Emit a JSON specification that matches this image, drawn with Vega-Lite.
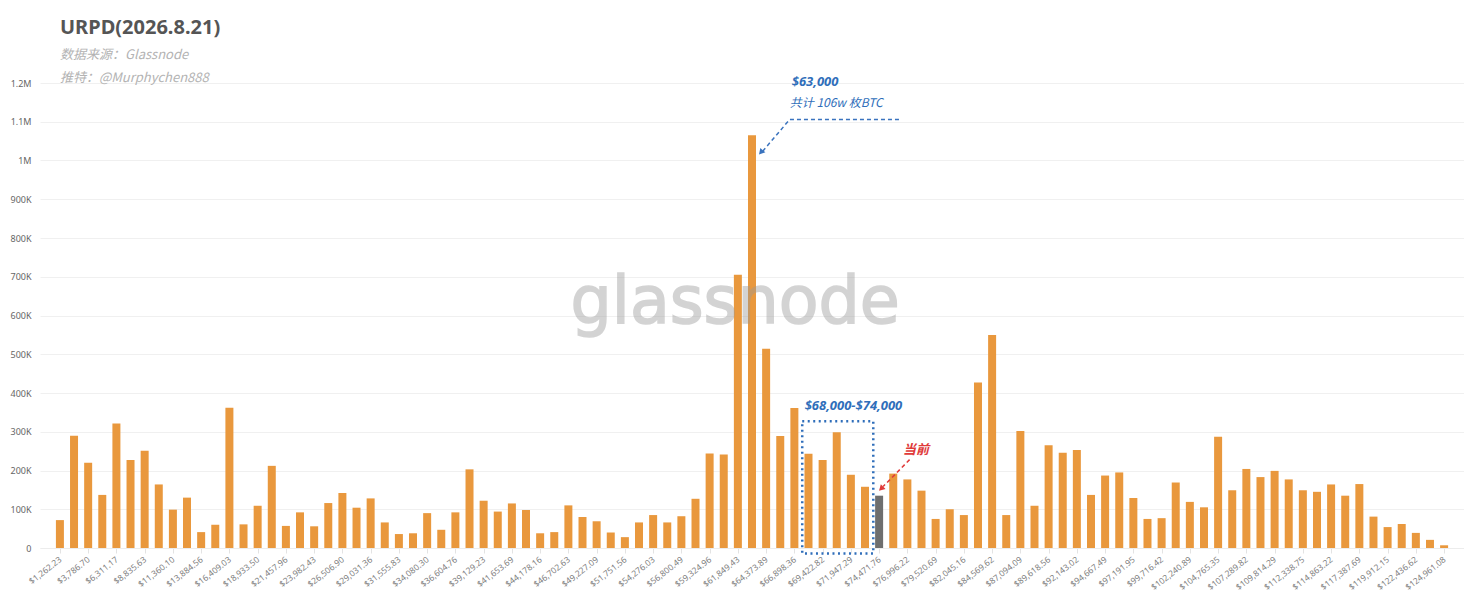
{
  "$schema": "https://vega.github.io/schema/vega-lite/v6.json",
  "width": 1424,
  "height": 465,
  "autosize": "none",
  "padding": {"left": 40, "top": 83, "right": 0, "bottom": 63},
  "background": "white",
  "config": {
    "view": {"stroke": null},
    "axisX": {"labelAngle": -38, "labelOverlap": false, "labelBound": false, "labelFlush": false},
    "axisY": {"labelOverlap": false}
  },
  "title": {
    "text": "URPD(2026.8.21)",
    "subtitle": ["数据来源：Glassnode", "推特：@Murphychen888"],
    "anchor": "start",
    "frame": "group",
    "dx": 20,
    "offset": -9,
    "font": "Noto Sans",
    "fontSize": 20,
    "fontWeight": "bold",
    "color": "#555555",
    "subtitleFont": "Noto Sans CJK SC",
    "subtitleFontSize": 13,
    "subtitleFontStyle": "italic",
    "subtitleColor": "#b3b3b3",
    "subtitleLineHeight": 23,
    "subtitlePadding": 11
  },
  "datasets": {
    "urpd": [
      {"price": 1262.23, "btc": 72000, "status": "other"},
      {"price": 2524.47, "btc": 290000, "status": "other"},
      {"price": 3786.70, "btc": 220000, "status": "other"},
      {"price": 5048.93, "btc": 137000, "status": "other"},
      {"price": 6311.17, "btc": 321000, "status": "other"},
      {"price": 7573.40, "btc": 227000, "status": "other"},
      {"price": 8835.63, "btc": 251000, "status": "other"},
      {"price": 10097.86, "btc": 164000, "status": "other"},
      {"price": 11360.10, "btc": 99000, "status": "other"},
      {"price": 12622.33, "btc": 130000, "status": "other"},
      {"price": 13884.56, "btc": 41000, "status": "other"},
      {"price": 15146.80, "btc": 60000, "status": "other"},
      {"price": 16409.03, "btc": 362000, "status": "other"},
      {"price": 17671.26, "btc": 61000, "status": "other"},
      {"price": 18933.50, "btc": 109000, "status": "other"},
      {"price": 20195.73, "btc": 212000, "status": "other"},
      {"price": 21457.96, "btc": 57000, "status": "other"},
      {"price": 22720.20, "btc": 92000, "status": "other"},
      {"price": 23982.43, "btc": 56000, "status": "other"},
      {"price": 25244.66, "btc": 116000, "status": "other"},
      {"price": 26506.90, "btc": 142000, "status": "other"},
      {"price": 27769.13, "btc": 104000, "status": "other"},
      {"price": 29031.36, "btc": 128000, "status": "other"},
      {"price": 30293.60, "btc": 66000, "status": "other"},
      {"price": 31555.83, "btc": 36000, "status": "other"},
      {"price": 32818.06, "btc": 38000, "status": "other"},
      {"price": 34080.30, "btc": 90000, "status": "other"},
      {"price": 35342.53, "btc": 47000, "status": "other"},
      {"price": 36604.76, "btc": 92000, "status": "other"},
      {"price": 37867.00, "btc": 203000, "status": "other"},
      {"price": 39129.23, "btc": 122000, "status": "other"},
      {"price": 40391.46, "btc": 94000, "status": "other"},
      {"price": 41653.69, "btc": 115000, "status": "other"},
      {"price": 42915.93, "btc": 98000, "status": "other"},
      {"price": 44178.16, "btc": 38000, "status": "other"},
      {"price": 45440.40, "btc": 41000, "status": "other"},
      {"price": 46702.63, "btc": 110000, "status": "other"},
      {"price": 47964.86, "btc": 80000, "status": "other"},
      {"price": 49227.09, "btc": 69000, "status": "other"},
      {"price": 50489.33, "btc": 40000, "status": "other"},
      {"price": 51751.56, "btc": 28000, "status": "other"},
      {"price": 53013.80, "btc": 66000, "status": "other"},
      {"price": 54276.03, "btc": 85000, "status": "other"},
      {"price": 55538.26, "btc": 66000, "status": "other"},
      {"price": 56800.49, "btc": 82000, "status": "other"},
      {"price": 58062.73, "btc": 127000, "status": "other"},
      {"price": 59324.96, "btc": 244000, "status": "other"},
      {"price": 60587.20, "btc": 241000, "status": "other"},
      {"price": 61849.43, "btc": 705000, "status": "other"},
      {"price": 63111.66, "btc": 1065000, "status": "other"},
      {"price": 64373.89, "btc": 514000, "status": "other"},
      {"price": 65636.13, "btc": 289000, "status": "other"},
      {"price": 66898.36, "btc": 361000, "status": "other"},
      {"price": 68160.59, "btc": 243000, "status": "other"},
      {"price": 69422.82, "btc": 227000, "status": "other"},
      {"price": 70685.06, "btc": 299000, "status": "other"},
      {"price": 71947.29, "btc": 189000, "status": "other"},
      {"price": 73209.53, "btc": 158000, "status": "other"},
      {"price": 74471.76, "btc": 135000, "status": "current"},
      {"price": 75733.99, "btc": 192000, "status": "other"},
      {"price": 76996.22, "btc": 177000, "status": "other"},
      {"price": 78258.46, "btc": 148000, "status": "other"},
      {"price": 79520.69, "btc": 75000, "status": "other"},
      {"price": 80782.93, "btc": 100000, "status": "other"},
      {"price": 82045.16, "btc": 85000, "status": "other"},
      {"price": 83307.39, "btc": 427000, "status": "other"},
      {"price": 84569.62, "btc": 550000, "status": "other"},
      {"price": 85831.86, "btc": 85000, "status": "other"},
      {"price": 87094.09, "btc": 302000, "status": "other"},
      {"price": 88356.33, "btc": 109000, "status": "other"},
      {"price": 89618.56, "btc": 265000, "status": "other"},
      {"price": 90880.79, "btc": 246000, "status": "other"},
      {"price": 92143.02, "btc": 253000, "status": "other"},
      {"price": 93405.26, "btc": 137000, "status": "other"},
      {"price": 94667.49, "btc": 187000, "status": "other"},
      {"price": 95929.72, "btc": 195000, "status": "other"},
      {"price": 97191.95, "btc": 129000, "status": "other"},
      {"price": 98454.19, "btc": 75000, "status": "other"},
      {"price": 99716.42, "btc": 77000, "status": "other"},
      {"price": 100978.66, "btc": 169000, "status": "other"},
      {"price": 102240.89, "btc": 119000, "status": "other"},
      {"price": 103503.12, "btc": 105000, "status": "other"},
      {"price": 104765.35, "btc": 287000, "status": "other"},
      {"price": 106027.59, "btc": 149000, "status": "other"},
      {"price": 107289.82, "btc": 204000, "status": "other"},
      {"price": 108552.06, "btc": 183000, "status": "other"},
      {"price": 109814.29, "btc": 199000, "status": "other"},
      {"price": 111076.52, "btc": 177000, "status": "other"},
      {"price": 112338.75, "btc": 149000, "status": "other"},
      {"price": 113600.99, "btc": 145000, "status": "other"},
      {"price": 114863.22, "btc": 164000, "status": "other"},
      {"price": 116125.46, "btc": 135000, "status": "other"},
      {"price": 117387.69, "btc": 165000, "status": "other"},
      {"price": 118649.92, "btc": 81000, "status": "other"},
      {"price": 119912.15, "btc": 54000, "status": "other"},
      {"price": 121174.39, "btc": 62000, "status": "other"},
      {"price": 122436.62, "btc": 39000, "status": "other"},
      {"price": 123698.85, "btc": 21000, "status": "other"},
      {"price": 124961.08, "btc": 7000, "status": "other"}
    ],
    "blueArrow": [
      {"price": 76245, "btc": 1106000, "o": 0},
      {"price": 66484, "btc": 1106000, "o": 1},
      {"price": 64088, "btc": 1024700, "o": 2}
    ],
    "redArrow": [
      {"price": 77195, "btc": 228000, "o": 0},
      {"price": 74827, "btc": 158500, "o": 1}
    ]
  },
  "encoding": {
    "x": {
      "field": "price",
      "type": "quantitative",
      "scale": {"domain": [-70, 126293], "nice": false, "zero": false},
      "axis": {
        "title": null,
        "values": [1262.23, 3786.70, 6311.17, 8835.63, 11360.10, 13884.56, 16409.03, 18933.50, 21457.96, 23982.43, 26506.90, 29031.36, 31555.83, 34080.30, 36604.76, 39129.23, 41653.69, 44178.16, 46702.63, 49227.09, 51751.56, 54276.03, 56800.49, 59324.96, 61849.43, 64373.89, 66898.36, 69422.82, 71947.29, 74471.76, 76996.22, 79520.69, 82045.16, 84569.62, 87094.09, 89618.56, 92143.02, 94667.49, 97191.95, 99716.42, 102240.89, 104765.35, 107289.82, 109814.29, 112338.75, 114863.22, 117387.69, 119912.15, 122436.62, 124961.08],
        "format": "$,.2f",
        "labelAngle": -38,
        "labelAlign": "right",
        "labelBaseline": "middle",
        "labelFont": "Noto Sans",
        "labelFontSize": 8.5,
        "labelColor": "#808080",
        "labelPadding": 5,
        "labelOverlap": false,
        "labelBound": false,
        "labelFlush": false,
        "grid": false,
        "ticks": true,
        "tickColor": "#e3e3e3",
        "tickSize": 5,
        "domain": true,
        "domainColor": "#ececec"
      }
    },
    "y": {
      "field": "btc",
      "type": "quantitative",
      "scale": {"domain": [0, 1200000], "nice": false},
      "axis": {
        "title": null,
        "values": [0, 100000, 200000, 300000, 400000, 500000, 600000, 700000, 800000, 900000, 1000000, 1100000, 1200000],
        "labelExpr": "datum.value >= 1000000 ? format(datum.value / 1000000, '~g') + 'M' : (datum.value == 0 ? '0' : format(datum.value / 1000, 'd') + 'K')",
        "labelFont": "Noto Sans",
        "labelFontSize": 9,
        "labelColor": "#666666",
        "labelPadding": 9,
        "labelOverlap": false,
        "grid": true,
        "gridColor": "#f0f0f0",
        "domain": false,
        "ticks": false
      }
    }
  },
  "layer": [
    {
      "data": {"name": "urpd"},
      "mark": {"type": "bar", "width": 8},
      "encoding": {
        "color": {
          "field": "status",
          "type": "nominal",
          "scale": {"domain": ["other", "current"], "range": ["#E9983D", "#6E6E6E"]},
          "legend": null
        }
      }
    },
    {
      "data": {"values": [{"price": 61603, "btc": 581000}]},
      "mark": {"type": "text", "text": "glassnode", "font": "DejaVu Sans", "fontWeight": "normal", "fontSize": 65, "color": "#999999", "stroke": "#999999", "strokeWidth": 1.6, "opacity": 0.42, "align": "center", "baseline": "alphabetic"}
    },
    {
      "data": {"values": [{"price": 67600, "price2": 73950, "btc": 327000, "btc2": -14000}]},
      "mark": {"type": "rect", "fill": null, "fillOpacity": 0, "stroke": "#2F6EBA", "strokeWidth": 2.5, "strokeDash": [2, 3.5]},
      "encoding": {
        "x2": {"field": "price2"},
        "y2": {"field": "btc2"}
      }
    },
    {
      "data": {"name": "blueArrow"},
      "mark": {"type": "line", "color": "#3A73BE", "strokeWidth": 1.5, "strokeDash": [4, 3]},
      "encoding": {"order": {"field": "o"}}
    },
    {
      "data": {"values": [{"price": 63910, "btc": 1021000}]},
      "mark": {"type": "point", "shape": "triangle-up", "filled": true, "color": "#3A73BE", "size": 45, "angle": 221, "opacity": 1}
    },
    {
      "data": {"name": "redArrow"},
      "mark": {"type": "line", "color": "#E03A3A", "strokeWidth": 1.5, "strokeDash": [4, 3]},
      "encoding": {"order": {"field": "o"}}
    },
    {
      "data": {"values": [{"price": 74650, "btc": 153000}]},
      "mark": {"type": "point", "shape": "triangle-up", "filled": true, "color": "#E03A3A", "size": 45, "angle": 225, "opacity": 1}
    },
    {
      "data": {"values": [{"price": 66663, "btc": 1202000}]},
      "mark": {"type": "text", "text": "$63,000", "font": "Noto Sans", "fontSize": 13, "fontWeight": "bold", "fontStyle": "italic", "color": "#2F6EBA", "align": "left", "baseline": "middle"}
    },
    {
      "data": {"values": [{"price": 66480, "btc": 1148000}]},
      "mark": {"type": "text", "text": "共计 106w 枚BTC", "font": "Noto Sans CJK SC", "fontSize": 12, "fontStyle": "italic", "color": "#2F6EBA", "align": "left", "baseline": "middle"}
    },
    {
      "data": {"values": [{"price": 67816, "btc": 366000}]},
      "mark": {"type": "text", "text": "$68,000-$74,000", "font": "Noto Sans", "fontSize": 13, "fontWeight": "bold", "fontStyle": "italic", "color": "#2F6EBA", "align": "left", "baseline": "middle"}
    },
    {
      "data": {"values": [{"price": 76600, "btc": 254000}]},
      "mark": {"type": "text", "text": "当前", "font": "Noto Sans CJK SC", "fontSize": 13, "fontWeight": "bold", "fontStyle": "italic", "color": "#E03A3A", "align": "left", "baseline": "middle"}
    }
  ]
}
